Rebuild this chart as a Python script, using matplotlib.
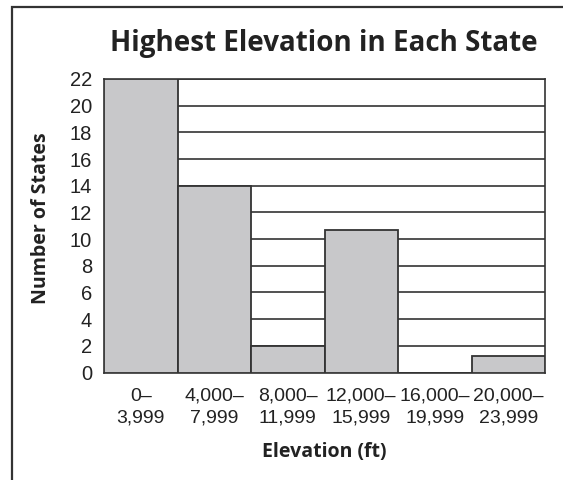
import matplotlib.pyplot as plt
from matplotlib.patches import Rectangle

# bins (ft) and counts
bin_starts = [0, 4000, 8000, 12000, 16000, 20000]
bin_width = 4000
counts = [22, 14, 2, 10.7, 0, 1.2]
tick_labels = ["0\u2013\n3,999", "4,000\u2013\n7,999", "8,000\u2013\n11,999",
               "12,000\u2013\n15,999", "16,000\u2013\n19,999", "20,000\u2013\n23,999"]
y_ticks = list(range(0, 23, 2))

ink = "#222222"
plain = ["Liberation Sans", "DejaVu Sans"]
bold = ["Open Sans", "DejaVu Sans"]

fig = plt.figure(figsize=(5.63, 4.8), dpi=100)
ax = fig.add_axes([104 / 563, 1 - 372.5 / 480, 441 / 563, 293.5 / 480])

# outer frame, cut off at right and bottom like the scan
fig.patches.append(Rectangle((12 / 563, -0.1), 1.2, 1 - 7 / 480 + 0.1,
                             transform=fig.transFigure, fill=False,
                             edgecolor="#333333", lw=1.6))

ax.bar(bin_starts, counts, width=bin_width, align="edge",
       color="#c8c8ca", edgecolor="#333333", linewidth=1.3, zorder=3)

ax.set_xlim(0, 24000)
ax.set_ylim(0, 22)
ax.set_yticks(y_ticks)
ax.yaxis.grid(True, color="#333333", linewidth=1.2, zorder=0)
ax.set_axisbelow(True)
ax.set_xticks([s + bin_width / 2 for s in bin_starts])
ax.set_xticklabels(tick_labels, family=plain, fontsize=14, color=ink,
                   linespacing=1.4)
ax.set_yticklabels([str(v) for v in y_ticks], family=plain, fontsize=14.5,
                   color=ink)
ax.tick_params(axis="both", length=0)
ax.tick_params(axis="x", pad=11)
ax.tick_params(axis="y", pad=8.5)
for side in ax.spines.values():
    side.set_color("#333333")
    side.set_linewidth(1.2)

ax.set_ylabel("Number of States", family=bold, fontweight="bold",
              fontsize=14, color=ink, va="center", ha="center")
ax.yaxis.set_label_coords((41 - 104) / 441, (372.5 - 218) / 293.5)
ax.set_xlabel("Elevation (ft)", family=bold, fontweight="bold",
              fontsize=14, color=ink, va="center", ha="center")
ax.xaxis.set_label_coords(0.5, (372.5 - 452) / 293.5)
fig.text(324 / 563, 1 - 43 / 480, "Highest Elevation in Each State",
         family=bold, fontweight="bold", fontsize=20, color=ink,
         ha="center", va="center")

fig.savefig("out.png", dpi=100)
